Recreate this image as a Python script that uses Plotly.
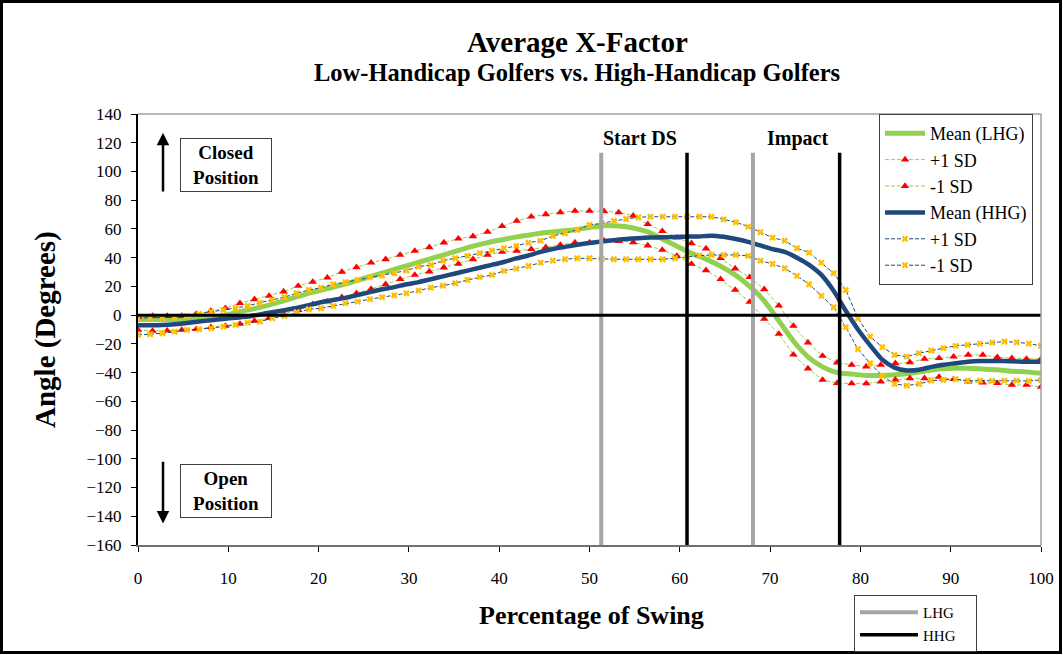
import plotly.graph_objects as go

# ---------------- data ----------------
pct_lhg = [0, 1.61, 3.23, 4.84, 6.45, 8.06, 9.68, 11.29, 12.9, 14.52, 16.13, 17.74, 19.35, 20.97, 22.58,
           24.19, 25.81, 27.42, 29.03, 30.65, 32.26, 33.87, 35.48, 37.1, 38.71, 40.32, 41.94, 43.55, 45.16,
           46.77, 48.39, 50, 51.61, 53.23, 54.84, 56.45, 58.06, 59.68, 61.29, 62.9, 64.52, 66.13, 67.74,
           69.35, 70.97, 72.58, 74.19, 75.81, 77.42, 79.03, 80.65, 82.26, 83.87, 85.48, 87.1, 88.71, 90.32,
           91.94, 93.55, 95.16, 96.77, 98.39, 100]

mean_lhg = [-3, -3, -3, -3, -2.5, -1.5, 0, 2.5, 4.5, 7, 10, 13, 16, 18.5, 21,
            24, 27, 30, 33, 36, 39, 42, 45, 48, 50.5, 52.5, 54.5, 56, 57.5,
            58.5, 59.5, 61, 62.3, 62, 60.7, 58, 53, 48, 43, 39, 34, 28, 20,
            10, -4, -18, -29, -36, -40, -41, -42, -42, -41.5, -40.5, -39, -37.5, -37,
            -37, -37.5, -38, -39, -39.5, -40.5]

plus_lhg = [-1.5, -0.6, -0.6, -0.6, 0.8, 2.9, 4.8, 8.3, 11, 13.4, 16.4, 20.3, 23.1, 26.1, 30.1,
            33.3, 36.5, 38.9, 41.9, 44.7, 47.2, 50.5, 53.2, 54.9, 57.9, 61.9, 65.6, 68.5, 70.2,
            71.6, 72.5, 72.5, 72.3, 71.5, 69.2, 63.3, 58.4, 53.9, 50, 46.3, 39.6, 32.4, 26.4,
            18, 6.6, -7.5, -19.1, -28.4, -33, -34.7, -35.8, -34.7, -33.5, -32.8, -30.5, -30, -28.9,
            -27.7, -27.7, -29.3, -30, -30.5, -30.5]

minus_lhg = [-10.3, -11, -10.8, -10.3, -9.8, -8.4, -7.5, -6.1, -4, -2, 1, 3.6, 7.6, 9.4, 12.5,
             15.2, 18.2, 21.5, 25, 28, 30.3, 33.1, 35.6, 38.9, 41.9, 44, 44.7, 45.9, 47.2,
             48.9, 50.5, 50.5, 51.8, 51.6, 50.7, 48.4, 45.4, 41.2, 35.6, 31.2, 25, 17.5, 9.2,
             -2.6, -13.1, -27.5, -37.2, -45.1, -47.4, -47.5, -47.5, -46.3, -45, -44, -44, -43, -44.6,
             -46.3, -47, -47.4, -48.6, -48.6, -50]

pct_hhg = [0, 1.35, 2.7, 4.05, 5.41, 6.76, 8.11, 9.46, 10.81, 12.16, 13.51, 14.86, 16.22, 17.57, 18.92,
           20.27, 21.62, 22.97, 24.32, 25.68, 27.03, 28.38, 29.73, 31.08, 32.43, 33.78, 35.14, 36.49, 37.84,
           39.19, 40.54, 41.89, 43.24, 44.59, 45.95, 47.3, 48.65, 50, 51.35, 52.7, 54.05, 55.41, 56.76,
           58.11, 59.46, 60.81, 62.16, 63.51, 64.86, 66.22, 67.57, 68.92, 70.27, 71.62, 72.97, 74.32, 75.68,
           77.03, 78.38, 79.73, 81.08, 82.43, 83.78, 85.14, 86.49, 87.84, 89.19, 90.54, 91.89, 93.24, 94.59,
           95.95, 97.3, 98.65, 100]

mean_hhg = [-7, -7, -6.8, -6.3, -5.5, -4.5, -3.5, -2.7, -1.8, -1, 0.5, 2, 3.5, 5, 7,
            9, 10.5, 12, 14, 16, 18, 19.5, 21.5, 23, 25, 27, 29, 31, 33,
            35, 37, 39.5, 41.5, 44, 46, 47.5, 49, 50.2, 51.3, 52.2, 53, 53.6, 54,
            54.2, 54.4, 54.6, 54.8, 55.3, 54.5, 53, 51, 48.5, 46, 44, 40, 35, 28,
            17, 3, -10, -21, -31, -36.5, -38.5, -38, -36, -34.5, -33.5, -32.5, -32, -32,
            -32, -32.3, -32.5, -32.5]

plus_hhg = [-2, -2, -2, -1.5, -0.5, 0.8, 2.4, 3.6, 4.8, 6.4, 8.7, 10.6, 12.5, 15.2, 17.5,
            19.1, 21.5, 22.9, 24.5, 26.4, 27.5, 29.2, 31, 33.8, 34.9, 37.9, 39.6, 41.2, 43.1,
            44.9, 46.6, 48.2, 50.5, 51.8, 55.1, 57, 59.3, 62.8, 63.8, 65.6, 66.9, 68.1, 68.5,
            68.5, 68.5, 68.5, 68.5, 68.5, 66.7, 64.6, 61.6, 57.7, 53.9, 51.8, 46.6, 43.5, 36.5,
            29.2, 17.5, -2.2, -15, -22.3, -27.7, -28.9, -26.5, -24.6, -23, -21.4, -20.7, -19.8, -19.1,
            -18.4, -18.9, -19.8, -21.4]

minus_hhg = [-13.8, -13.3, -12.6, -11.5, -10.3, -9.8, -9.1, -8, -6.8, -5.2, -4.5, -2.2, -0.6, 2, 4.1,
             4.8, 6.4, 8.3, 9.4, 11.1, 12.5, 13.8, 15.2, 17.1, 19.1, 20.5, 22.2, 24.5, 26.4,
             28, 30.8, 32.4, 34.2, 36.5, 37.9, 38.9, 39.6, 39.6, 39.2, 38.9, 38.9, 38.9, 38.9,
             38.9, 39.6, 40.7, 41.4, 41.9, 41.9, 41.9, 41.2, 37.9, 35.6, 32.6, 27.3, 21.5, 13.4,
             5.5, -8.4, -23.7, -33.5, -42.3, -47.9, -49, -47.9, -45.6, -45.1, -44.6, -45.6, -45.6, -45.8,
             -45.6, -45.6, -45.8, -45.1]

# event markers (percentage of swing)
event_lhg = [51.3, 68.1]   # Start DS, Impact for LHG
event_hhg = [60.8, 77.7]   # Start DS, Impact for HHG
event_labels = ["Start DS", "Impact"]
event_label_x = [55.6, 73.0]

x_ticks = [0, 10, 20, 30, 40, 50, 60, 70, 80, 90, 100]
y_ticks = list(range(-160, 141, 20))

# ---------------- style ----------------
FONT = "Liberation Serif"
GREEN = "#92D050"
NAVY = "#1F497D"
RED = "#FF0000"
GOLD = "#FFC000"

L, R, T, B = 138, 1041, 114, 545
W, H = 1063, 655


def px2paper_x(px):
    return (px - L) / (R - L)


def px2paper_y(py):
    return (B - py) / (B - T)


fig = go.Figure()

fig.add_trace(go.Scatter(x=pct_lhg, y=mean_lhg, mode="lines", name="Mean (LHG)",
                         line=dict(color=GREEN, width=5, shape="spline", smoothing=0.6),
                         legendgroup="a"))
fig.add_trace(go.Scatter(x=pct_lhg, y=plus_lhg, mode="lines+markers", name="+1 SD",
                         line=dict(color=GREEN, width=1, dash="4px,2px"),
                         marker=dict(symbol="triangle-up", size=7.5, color=RED),
                         legendgroup="b"))
fig.add_trace(go.Scatter(x=pct_lhg, y=minus_lhg, mode="lines+markers", name="-1 SD",
                         line=dict(color=GREEN, width=1, dash="4px,2px"),
                         marker=dict(symbol="triangle-up", size=7.5, color=RED),
                         legendgroup="c"))
fig.add_trace(go.Scatter(x=pct_hhg, y=mean_hhg, mode="lines", name="Mean (HHG)",
                         line=dict(color=NAVY, width=4.5, shape="spline", smoothing=0.6),
                         legendgroup="d"))
fig.add_trace(go.Scatter(x=pct_hhg, y=plus_hhg, mode="lines+markers", name="+1 SD",
                         line=dict(color=NAVY, width=1, dash="4px,2px"),
                         marker=dict(symbol="x", size=6, color=GOLD),
                         legendgroup="e"))
fig.add_trace(go.Scatter(x=pct_hhg, y=minus_hhg, mode="lines+markers", name="-1 SD",
                         line=dict(color=NAVY, width=1, dash="4px,2px"),
                         marker=dict(symbol="x", size=6, color=GOLD),
                         legendgroup="f"))

# event lines
VTOP = 113
vx_l, vy_l = [], []
for e in event_lhg:
    vx_l += [e, e, None]
    vy_l += [-160, VTOP, None]
vx_h, vy_h = [], []
for e in event_hhg:
    vx_h += [e, e, None]
    vy_h += [-160, VTOP, None]
fig.add_trace(go.Scatter(x=vx_l, y=vy_l, mode="lines", name="LHG\u00a0\u00a0\u00a0\u00a0",
                         line=dict(color="#A6A6A6", width=4), legend="legend2", legendgroup="g"))
fig.add_trace(go.Scatter(x=vx_h, y=vy_h, mode="lines", name="HHG\u00a0\u00a0\u00a0\u00a0",
                         line=dict(color="#000000", width=3.5), legend="legend2", legendgroup="h"))


def ann_paper(text, px, py, size, angle=0):
    return dict(text=text, xref="paper", yref="paper", x=px2paper_x(px), y=px2paper_y(py),
                xanchor="center", yanchor="middle", showarrow=False, textangle=angle,
                font=dict(family=FONT, size=size, color="black"))


annotations = [
    ann_paper("<b>Average X-Factor</b>", 577, 42, 29),
    ann_paper("<b>Low-Handicap Golfers vs. High-Handicap Golfers</b>", 577, 73, 24.5),
    ann_paper("<b>Angle (Degrees)</b>", 45, 330, 29, -90),
    ann_paper("<b>Percentage of Swing</b>", 591, 615, 26),
]
for lab, lx in zip(event_labels, event_label_x):
    annotations.append(dict(text="<b>%s</b>" % lab, x=lx, y=123, xref="x", yref="y",
                            xanchor="center", yanchor="middle",
                            showarrow=False, font=dict(family=FONT, size=20, color="black")))
for txt, yy in [("<b>Closed<br>Position</b>", 104.5), ("<b>Open<br>Position</b>", -122.3)]:
    annotations.append(dict(text=txt, x=9.8, y=yy, xref="x", yref="y",
                            xanchor="center", yanchor="middle",
                            showarrow=False, bordercolor="#404040", borderwidth=1, borderpad=3,
                            bgcolor="white", width=84,
                            font=dict(family=FONT, size=19, color="black")))
annotations.append(dict(text="", x=2.77, y=127, ax=2.77, ay=85, xref="x", yref="y",
                        axref="x", ayref="y", showarrow=True, arrowhead=2, arrowsize=1,
                        arrowwidth=2.5, arrowcolor="black"))
annotations.append(dict(text="", x=2.77, y=-145, ax=2.77, ay=-101, xref="x", yref="y",
                        axref="x", ayref="y", showarrow=True, arrowhead=2, arrowsize=1,
                        arrowwidth=2.5, arrowcolor="black"))

shapes = [
    dict(type="line", xref="x", yref="y", x0=0, x1=100, y0=0, y1=0,
         line=dict(color="black", width=3), layer="above"),
    dict(type="line", xref="paper", yref="paper", x0=0, x1=1, y0=1, y1=1,
         line=dict(color="#A0A0A0", width=1.5), layer="above"),
    dict(type="line", xref="paper", yref="paper", x0=1, x1=1, y0=0, y1=1,
         line=dict(color="#A0A0A0", width=1.5), layer="above"),
    dict(type="rect", xref="paper", yref="paper",
         x0=px2paper_x(1.5), x1=px2paper_x(1060.5), y0=px2paper_y(652.5), y1=px2paper_y(1.5),
         line=dict(color="black", width=3), layer="above"),
]

fig.update_layout(
    width=W, height=H,
    margin=dict(l=L, r=W - R, t=T, b=H - B, pad=0, autoexpand=False),
    paper_bgcolor="white", plot_bgcolor="white",
    font=dict(family=FONT, size=17, color="black"),
    showlegend=True,
    legend=dict(x=px2paper_x(879), xanchor="left", y=1, yanchor="top",
                bordercolor="#404040", borderwidth=1, bgcolor="white",
                font=dict(family=FONT, size=18, color="black"),
                itemwidth=40, tracegroupgap=7, traceorder="normal"),
    legend2=dict(x=px2paper_x(854), xanchor="left", y=px2paper_y(595), yanchor="top",
                 bordercolor="#404040", borderwidth=1, bgcolor="white",
                 font=dict(family=FONT, size=15, color="black"),
                 itemwidth=58, tracegroupgap=0, traceorder="normal"),
    annotations=annotations,
    shapes=shapes,
    xaxis=dict(range=[0, 100], tickvals=x_ticks, ticks="outside", ticklen=5, tickcolor="black",
               showline=True, linecolor="#707070", linewidth=1.5, showgrid=False, zeroline=False,
               tickfont=dict(family=FONT, size=17, color="black"), ticklabelstandoff=12),
    yaxis=dict(range=[-160, 140], tickvals=y_ticks, ticks="outside", ticklen=5, tickcolor="black",
               showline=True, linecolor="black", linewidth=2, showgrid=False, zeroline=False,
               tickfont=dict(family=FONT, size=17, color="black"), ticklabelstandoff=6),
)

fig.write_html("out.html", config={"displayModeBar": False},
               post_script="document.body.style.margin='0';")
